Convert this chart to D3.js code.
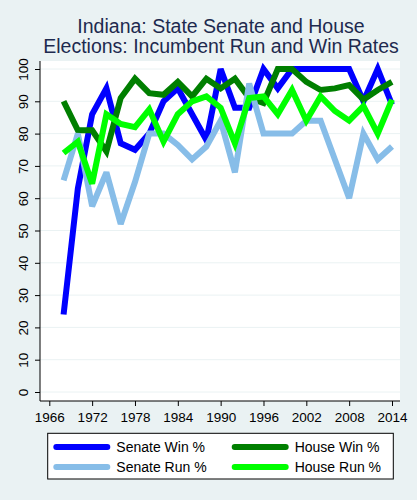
<!DOCTYPE html>
<html><head><meta charset="utf-8">
<script src="https://cdn.jsdelivr.net/npm/d3@7"></script>
<style>body{margin:0;background:#eaf2f3;}svg{display:block;}</style>
</head><body>
<script>
const years = d3.range(1968, 2015, 2);
const senateWin = [24, 63, 86, 94, 77, 75, 80, 90, 94, 86, 78, 100, 88, 88, 100, 94, 100, 100, 100, 100, 100, 90, 100, 89];
const houseWin  = [90, 81, 81, 74.5, 91, 97, 92.5, 92, 96, 91.5, 97, 94, 97, 91, 89.5, 100, 100, 96, 93.5, 94, 95, 90.5, 93.5, 96];
const senateRun = [65.5, 80, 57.5, 68, 52, 65, 80, 80, 76.5, 72, 76, 84, 68, 95.5, 80, 80, 80, 84, 84, 72, 60, 80, 72, 76];
const houseRun  = [74, 77.5, 64.5, 86, 83, 82, 87.5, 77.5, 86, 90, 91.5, 88, 77, 91, 91.5, 86, 93.5, 84, 91.5, 87, 84, 88.5, 80, 90.5];
const xTicks = [1966, 1972, 1978, 1984, 1990, 1996, 2002, 2008, 2014];
const yTicks = [0, 10, 20, 30, 40, 50, 60, 70, 80, 90, 100];
const seriesNames = ["Senate Win %", "House Win %", "Senate Run %", "House Run %"];
const seriesColors = ["#0000ff", "#007f00", "#87bde8", "#00ff00"];
const seriesData = [senateWin, houseWin, senateRun, houseRun];

const W = 417, H = 500;
const svg = d3.select("body").append("svg").attr("width", W).attr("height", H);
svg.append("rect").attr("width", W).attr("height", H).attr("fill", "#eaf2f3");

const plot = {l: 40, r: 400, t: 61, b: 401};
const x = d3.scaleLinear().domain([1966, 2014]).range([49.3, 392]);
const y = d3.scaleLinear().domain([0, 100]).range([392, 69]);

svg.append("rect").attr("x", plot.l).attr("y", plot.t)
  .attr("width", plot.r - plot.l).attr("height", plot.b - plot.t).attr("fill", "#ffffff");

// grid
svg.append("g").selectAll("line").data(yTicks).join("line")
  .attr("x1", plot.l).attr("x2", plot.r)
  .attr("y1", d => y(d)).attr("y2", d => y(d))
  .attr("stroke", "#eaf2f3").attr("stroke-width", 1);

// lines
const lineGen = d3.line().x(d => x(d[0])).y(d => y(d[1]));
seriesData.forEach((s, i) => {
  svg.append("path").datum(years.map((yr, j) => [yr, s[j]]))
    .attr("d", lineGen).attr("fill", "none")
    .attr("stroke", seriesColors[i]).attr("stroke-width", 6)
    .attr("stroke-linejoin", "miter").attr("stroke-miterlimit", 3);
});

// axes
const font = "'Liberation Sans', Arial, sans-serif";
const yAxis = svg.append("g").attr("transform", `translate(${plot.l},0)`)
  .call(d3.axisLeft(y).tickValues(yTicks).tickSize(5).tickSizeOuter(0).tickFormat(d3.format("d")));
yAxis.select(".domain").attr("d", `M0,${plot.t}V${plot.b}`).attr("stroke", "#000");
yAxis.selectAll(".tick line").attr("stroke", "#000");
yAxis.selectAll(".tick text")
  .attr("font-family", font).attr("font-size", 13.5).attr("fill", "#000")
  .attr("text-anchor", "middle").attr("x", null).attr("dy", null)
  .attr("transform", "translate(-12,0) rotate(-90)");

const xAxis = svg.append("g").attr("transform", `translate(0,${plot.b})`)
  .call(d3.axisBottom(x).tickValues(xTicks).tickSize(5).tickSizeOuter(0).tickFormat(d3.format("d")));
xAxis.select(".domain").attr("d", `M${plot.l},0H${plot.r}`).attr("stroke", "#000");
xAxis.selectAll(".tick line").attr("stroke", "#000");
xAxis.selectAll(".tick text")
  .attr("font-family", font).attr("font-size", 13.5).attr("fill", "#000")
  .attr("y", 21).attr("dy", null);

// title
const title = svg.append("text").attr("font-family", font).attr("font-size", 19.5)
  .attr("fill", "#1e2a4f").attr("text-anchor", "middle");
title.append("tspan").attr("x", 221).attr("y", 33.3).text("Indiana: State Senate and House");
title.append("tspan").attr("x", 221).attr("y", 53.3).text("Elections: Incumbent Run and Win Rates");

// legend
svg.append("rect").attr("x", 47.7).attr("y", 433.3).attr("width", 345.6).attr("height", 45.7)
  .attr("fill", "#fff").attr("stroke", "#000").attr("stroke-width", 1);
const legPos = [[53.3, 447], [231.7, 447], [53.3, 467], [231.7, 467]];
seriesNames.forEach((n, i) => {
  const [lx, ly] = legPos[i];
  svg.append("line").attr("x1", lx + 3).attr("x2", lx + 54).attr("y1", ly).attr("y2", ly)
    .attr("stroke", seriesColors[i]).attr("stroke-width", 6).attr("stroke-linecap", "round");
  svg.append("text").attr("x", lx + 63).attr("y", ly + 5).attr("font-family", font)
    .attr("font-size", 14).attr("fill", "#000").text(n);
});
</script>
</body></html>
